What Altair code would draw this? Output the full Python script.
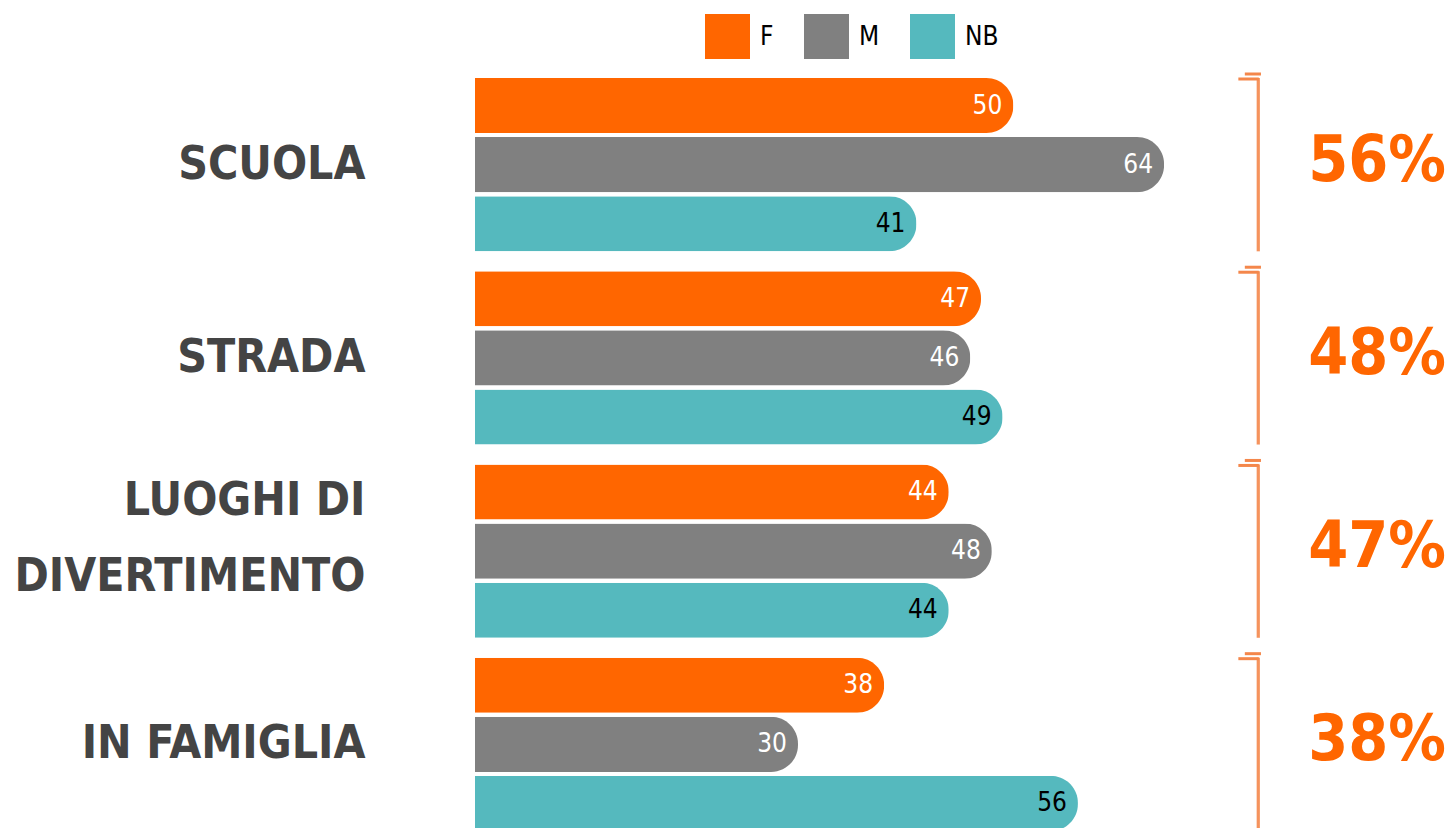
import altair as alt
import pandas as pd

categories = ["SCUOLA", "STRADA", "LUOGHI DI|DIVERTIMENTO", "IN FAMIGLIA"]
genders = ["F", "M", "NB"]
values_f = [50, 47, 44, 38]
values_m = [64, 46, 48, 30]
values_nb = [41, 49, 44, 56]
totals = ["56%", "48%", "47%", "38%"]

colors = ["#FF6600", "#808080", "#55B9BE"]
FONT = "DejaVu Sans Condensed, sans-serif"

rows = []
for i, c in enumerate(categories):
    for g, vals in zip(genders, [values_f, values_m, values_nb]):
        rows.append({"cat": c, "gender": g, "value": vals[i]})
df = pd.DataFrame(rows)
tot = pd.DataFrame({"cat": categories, "pct": totals})

xscale = alt.Scale(domain=[0, 90], nice=False, zero=True)
yaxis = alt.Axis(
    title=None, domain=False, ticks=False, grid=False,
    labelPadding=110, labelFont=FONT, labelFontWeight="bold",
    labelFontSize=46, labelColor="#444444", labelLineHeight=76,
    labelExpr="split(datum.label, '|')", labelLimit=0,
    labelOffset={"condition": {"test": "indexof(datum.value, '|') >= 0", "value": -50}, "value": 0},
)
yscale = alt.Scale(domain=categories, paddingInner=0.103, paddingOuter=0)
Y = alt.Y("cat:N", sort=categories, scale=yscale, axis=yaxis)
YOFF = alt.YOffset("gender:N", sort=genders,
                   scale=alt.Scale(domain=genders, paddingInner=0.068, paddingOuter=0))

bars = alt.Chart(df).mark_bar(cornerRadiusEnd=27).encode(
    x=alt.X("value:Q", scale=xscale, axis=None),
    y=Y,
    yOffset=YOFF,
    color=alt.Color(
        "gender:N",
        scale=alt.Scale(domain=genders, range=colors),
        legend=alt.Legend(
            title=None, orient="none", legendX=230, legendY=-64,
            direction="horizontal", symbolType="square", symbolSize=2025,
            symbolStrokeWidth=0, labelFont=FONT, labelFontSize=26,
            labelColor="black", columnPadding=30, labelOffset=10,
        ),
    ),
)

labels = alt.Chart(df).mark_text(
    align="right", baseline="middle", dx=-11, font=FONT, fontSize=26
).encode(
    x=alt.X("value:Q", scale=xscale, axis=None),
    y=Y,
    yOffset=YOFF,
    text="value:Q",
    color=alt.condition("datum.gender == 'NB'", alt.value("black"), alt.value("white")),
)

bracket_color = "#F4874B"
vline = alt.Chart(tot).mark_bar(color=bracket_color, opacity=0.9).encode(
    x=alt.datum(72.6), x2=alt.datum(72.9), y=Y,
)
top_hook = alt.Chart(tot).mark_rule(color=bracket_color, strokeWidth=3).encode(
    x=alt.datum(71.5), x2=alt.datum(73.0),
    y=alt.Y("cat:N", sort=categories, scale=yscale, axis=yaxis, bandPosition=0),
    yOffset=alt.value(-4),
)
bot_hook = alt.Chart(tot).mark_rule(color=bracket_color, strokeWidth=3).encode(
    x=alt.datum(70.9), x2=alt.datum(72.8),
    y=alt.Y("cat:N", sort=categories, scale=yscale, axis=yaxis, bandPosition=1),
    yOffset=alt.value(1),
)

pct = alt.Chart(tot).mark_text(
    align="right", baseline="alphabetic", dx=2, dy=16, font=FONT,
    fontWeight="bold", fontSize=64, color="#FF6600",
).encode(
    x=alt.datum(90), y=Y, text="pct:N",
)

chart = alt.layer(bars, labels, vline, top_hook, bot_hook, pct).properties(
    width=969, height=753,
    autosize=alt.AutoSizeParams(type="none"),
    padding={"left": 467, "top": 70, "right": 1, "bottom": 0},
).configure_view(stroke=None)

chart.save("out.html", embed_options={"renderer": "svg", "actions": False})
